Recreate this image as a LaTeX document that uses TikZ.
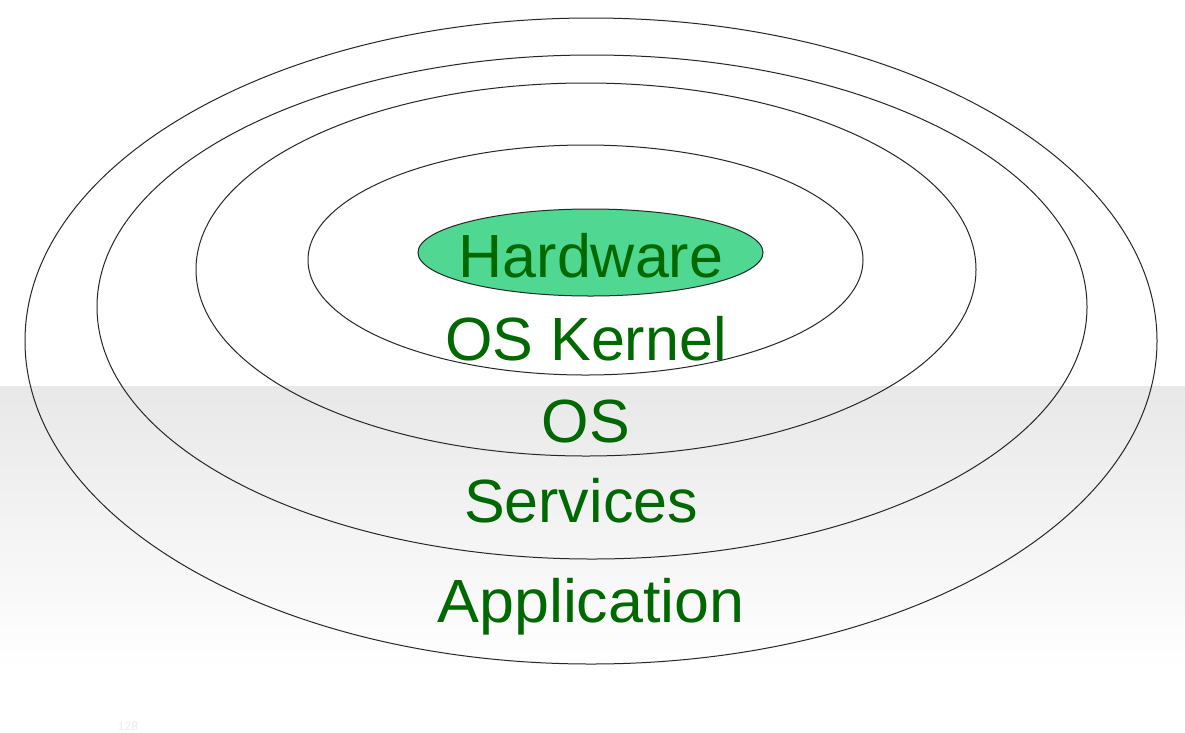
\documentclass[tikz,border=0pt]{standalone}
\usepackage{fontspec}
\setmainfont{Liberation Sans}
\usetikzlibrary{shapes.geometric}
\definecolor{labelgreen}{RGB}{0,104,0}
\definecolor{hwfill}{RGB}{80,216,146}
\definecolor{bandgray}{RGB}{232,232,233}
\definecolor{faintgray}{RGB}{236,236,236}
\tikzset{
  ring/.style={ellipse, draw=black!85, line width=1pt, inner sep=0pt},
  layerlabel/.style={anchor=base, text=labelgreen, inner sep=0pt,
    font=\fontsize{61}{61}\selectfont},
}
\begin{document}
\begin{tikzpicture}[x=1pt,y=-1pt]
\useasboundingbox (0,0) rectangle (1185,732);
\fill[white] (0,0) rectangle (1185,732);
\shade[top color=bandgray, bottom color=white] (0,386) rectangle (1185,670);
% rings
\node[ring, minimum width=1132pt, minimum height=646pt] (r1) at (591,341) {};
\node[ring, minimum width=990pt, minimum height=504pt] (r2) at (592,307) {};
\node[ring, minimum width=780pt, minimum height=373pt] (r3) at (586,269.5) {};
\node[ring, minimum width=555pt, minimum height=230pt] (r4) at (585.5,260) {};
\node[ring, fill=hwfill, minimum width=345pt, minimum height=87pt] (hw) at (590.5,252.5) {};
% labels
\node[layerlabel] (thw) at (591,277) {Hardware};
\node[layerlabel] (tker) at (586,360) {OS Kernel};
\node[layerlabel] (tos) at (586,442) {OS};
\node[layerlabel] (tsrv) at (581,522) {Services};
\node[layerlabel, xscale=1.03] (tapp) at (591,622) {Application};
\node[anchor=base, text=faintgray, font=\fontsize{12}{12}\selectfont, inner sep=0pt] (pg) at (128,730) {128};
\end{tikzpicture}
\end{document}
